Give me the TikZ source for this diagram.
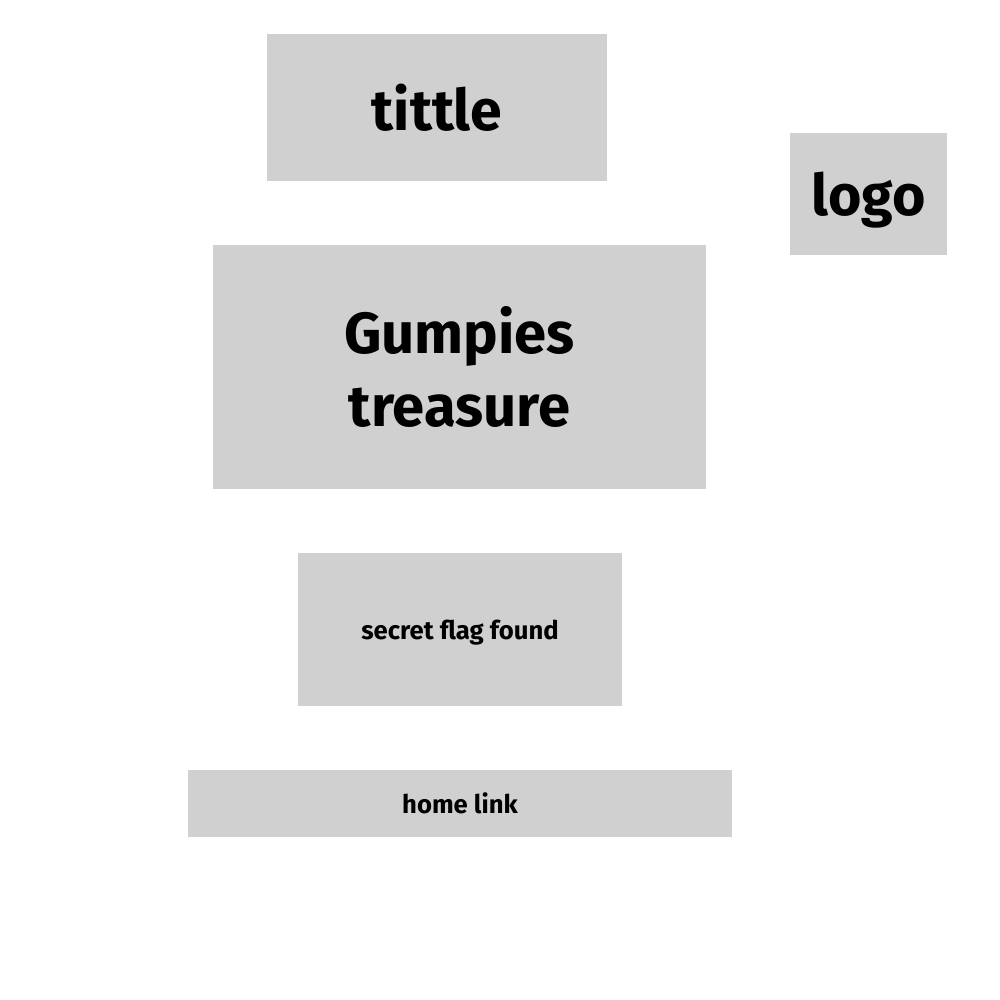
\documentclass[tikz,border=0pt]{standalone}
\usepackage{fontspec}
\setmainfont{Fira Sans}
\usepackage{tikz}
\definecolor{boxgray}{HTML}{D0D0D0}
\tikzset{block/.style={fill=boxgray,draw=none,inner sep=0pt,align=center,font=\bfseries}}

\begin{document}
\begin{tikzpicture}
	\useasboundingbox[fill=white] (0,0) rectangle (10,-10);
	\node[block,minimum width=3.40cm,minimum height=1.47cm,font=\bfseries\fontsize{16.3}{18}\selectfont] (tittle) at (4.37,-1.075) {tittle};
	\node[block,minimum width=1.57cm,minimum height=1.22cm,text height=0.55cm,font=\bfseries\fontsize{16.3}{18}\selectfont] (logo) at (8.685,-1.94) {logo};
	\node[block,minimum width=4.93cm,minimum height=2.44cm,font=\bfseries\fontsize{16.5}{21}\selectfont] (game) at (4.595,-3.67) {Gumpies\\treasure};
	\node[block,minimum width=3.24cm,minimum height=1.53cm,text height=0.26cm,font=\bfseries\fontsize{7.3}{9}\selectfont] (flag) at (4.60,-6.295) {secret flag found};
	\node[block,minimum width=5.44cm,minimum height=0.67cm,font=\bfseries\fontsize{7.3}{9}\selectfont] (home) at (4.60,-8.035) {home link};
\end{tikzpicture}
\end{document}
